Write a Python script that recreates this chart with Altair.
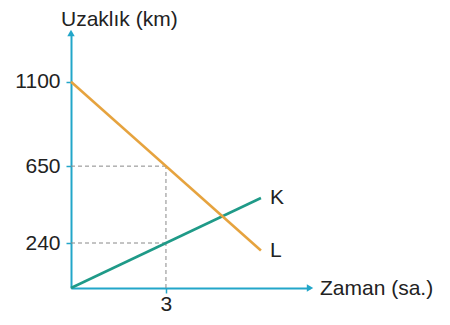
import altair as alt
import pandas as pd

# data
times = [0, 6]
k_dist = [0, 480]
l_dist = [1100, 200]
series = ["K", "L"]
y_ticks = [240, 650, 1100]
x_ticks = [3]
guide_t = 3
guide_upper = 650
guide_lower = 240
x_max = 7.55
y_max = 1360

AX = "#22a6c9"
TEAL = "#1f9a88"
ORANGE = "#e6a33e"
FONT = "Liberation Sans"
FS = 21

lines = pd.DataFrame({
    "t": times + times,
    "d": k_dist + l_dist,
    "s": [series[0]] * 2 + [series[1]] * 2,
})
ends = pd.DataFrame({"t": [times[-1], times[-1]], "d": [k_dist[-1], l_dist[-1]], "s": series})
guides = pd.DataFrame({
    "t": [0, guide_t, 0],
    "t2": [guide_t, guide_t, guide_t],
    "d": [guide_upper, 0, guide_lower],
    "d2": [guide_upper, guide_upper, guide_lower],
})
arrows = pd.DataFrame({"t": [0, x_max], "d": [y_max, 0], "shape": ["triangle-up", "triangle-right"]})
titles = pd.DataFrame({"t": [0, x_max], "d": [y_max, 0], "label": ["Uzaklık (km)", "Zaman (sa.)"]})

xs = alt.Scale(domain=[0, x_max], nice=False, zero=False)
ys = alt.Scale(domain=[0, y_max], nice=False, zero=False)
cs = alt.Scale(domain=series, range=[TEAL, ORANGE])

xaxis = alt.Axis(values=x_ticks, format="d", grid=False, domainColor=AX, domainWidth=2, tickColor=AX,
                 tickWidth=1.5, tickSize=5, labelPadding=0, labelFont=FONT, labelFontSize=FS,
                 labelColor="#222222", title=None)
yaxis = alt.Axis(values=y_ticks, format="d", grid=False, domainColor=AX, domainWidth=2, tickColor=AX,
                 tickWidth=1.5, tickSize=5, labelPadding=6, labelFont=FONT, labelFontSize=FS,
                 labelColor="#222222", title=None)

guide_layer = alt.Chart(guides).mark_rule(color="#888888", strokeDash=[4, 3], strokeWidth=1).encode(
    x=alt.X("t:Q", scale=xs, axis=xaxis), x2="t2:Q",
    y=alt.Y("d:Q", scale=ys, axis=yaxis), y2="d2:Q",
)

line_layer = alt.Chart(lines).mark_line(strokeWidth=2.5).encode(
    x=alt.X("t:Q", scale=xs),
    y=alt.Y("d:Q", scale=ys),
    color=alt.Color("s:N", scale=cs, legend=None),
    detail="s:N",
)

end_labels = alt.Chart(ends).mark_text(align="left", baseline="middle", dx=9, font=FONT,
                                       fontSize=FS, color="#222222").encode(
    x=alt.X("t:Q", scale=xs), y=alt.Y("d:Q", scale=ys), text="s:N",
)

arrow_layer = alt.Chart(arrows).mark_point(filled=True, size=55, opacity=1, color=AX).encode(
    x=alt.X("t:Q", scale=xs), y=alt.Y("d:Q", scale=ys),
    shape=alt.Shape("shape:N", scale=None),
)

y_title = alt.Chart(titles.iloc[[0]]).mark_text(align="left", baseline="middle", dx=-10, dy=-13,
                                                font=FONT, fontSize=FS, color="#222222").encode(
    x=alt.X("t:Q", scale=xs), y=alt.Y("d:Q", scale=ys), text="label:N",
)
x_title = alt.Chart(titles.iloc[[1]]).mark_text(align="left", baseline="middle", dx=10, dy=1,
                                                font=FONT, fontSize=FS, color="#222222").encode(
    x=alt.X("t:Q", scale=xs), y=alt.Y("d:Q", scale=ys), text="label:N",
)

chart = alt.layer(guide_layer, line_layer, end_labels, arrow_layer, y_title, x_title).properties(
    width=239, height=255,
    background="white",
    autosize=alt.AutoSizeParams(type="none"),
    padding={"left": 63, "top": 25, "right": 130, "bottom": 29},
).configure_view(stroke=None)

chart.save("out.html", embed_options={"renderer": "svg", "actions": False})
